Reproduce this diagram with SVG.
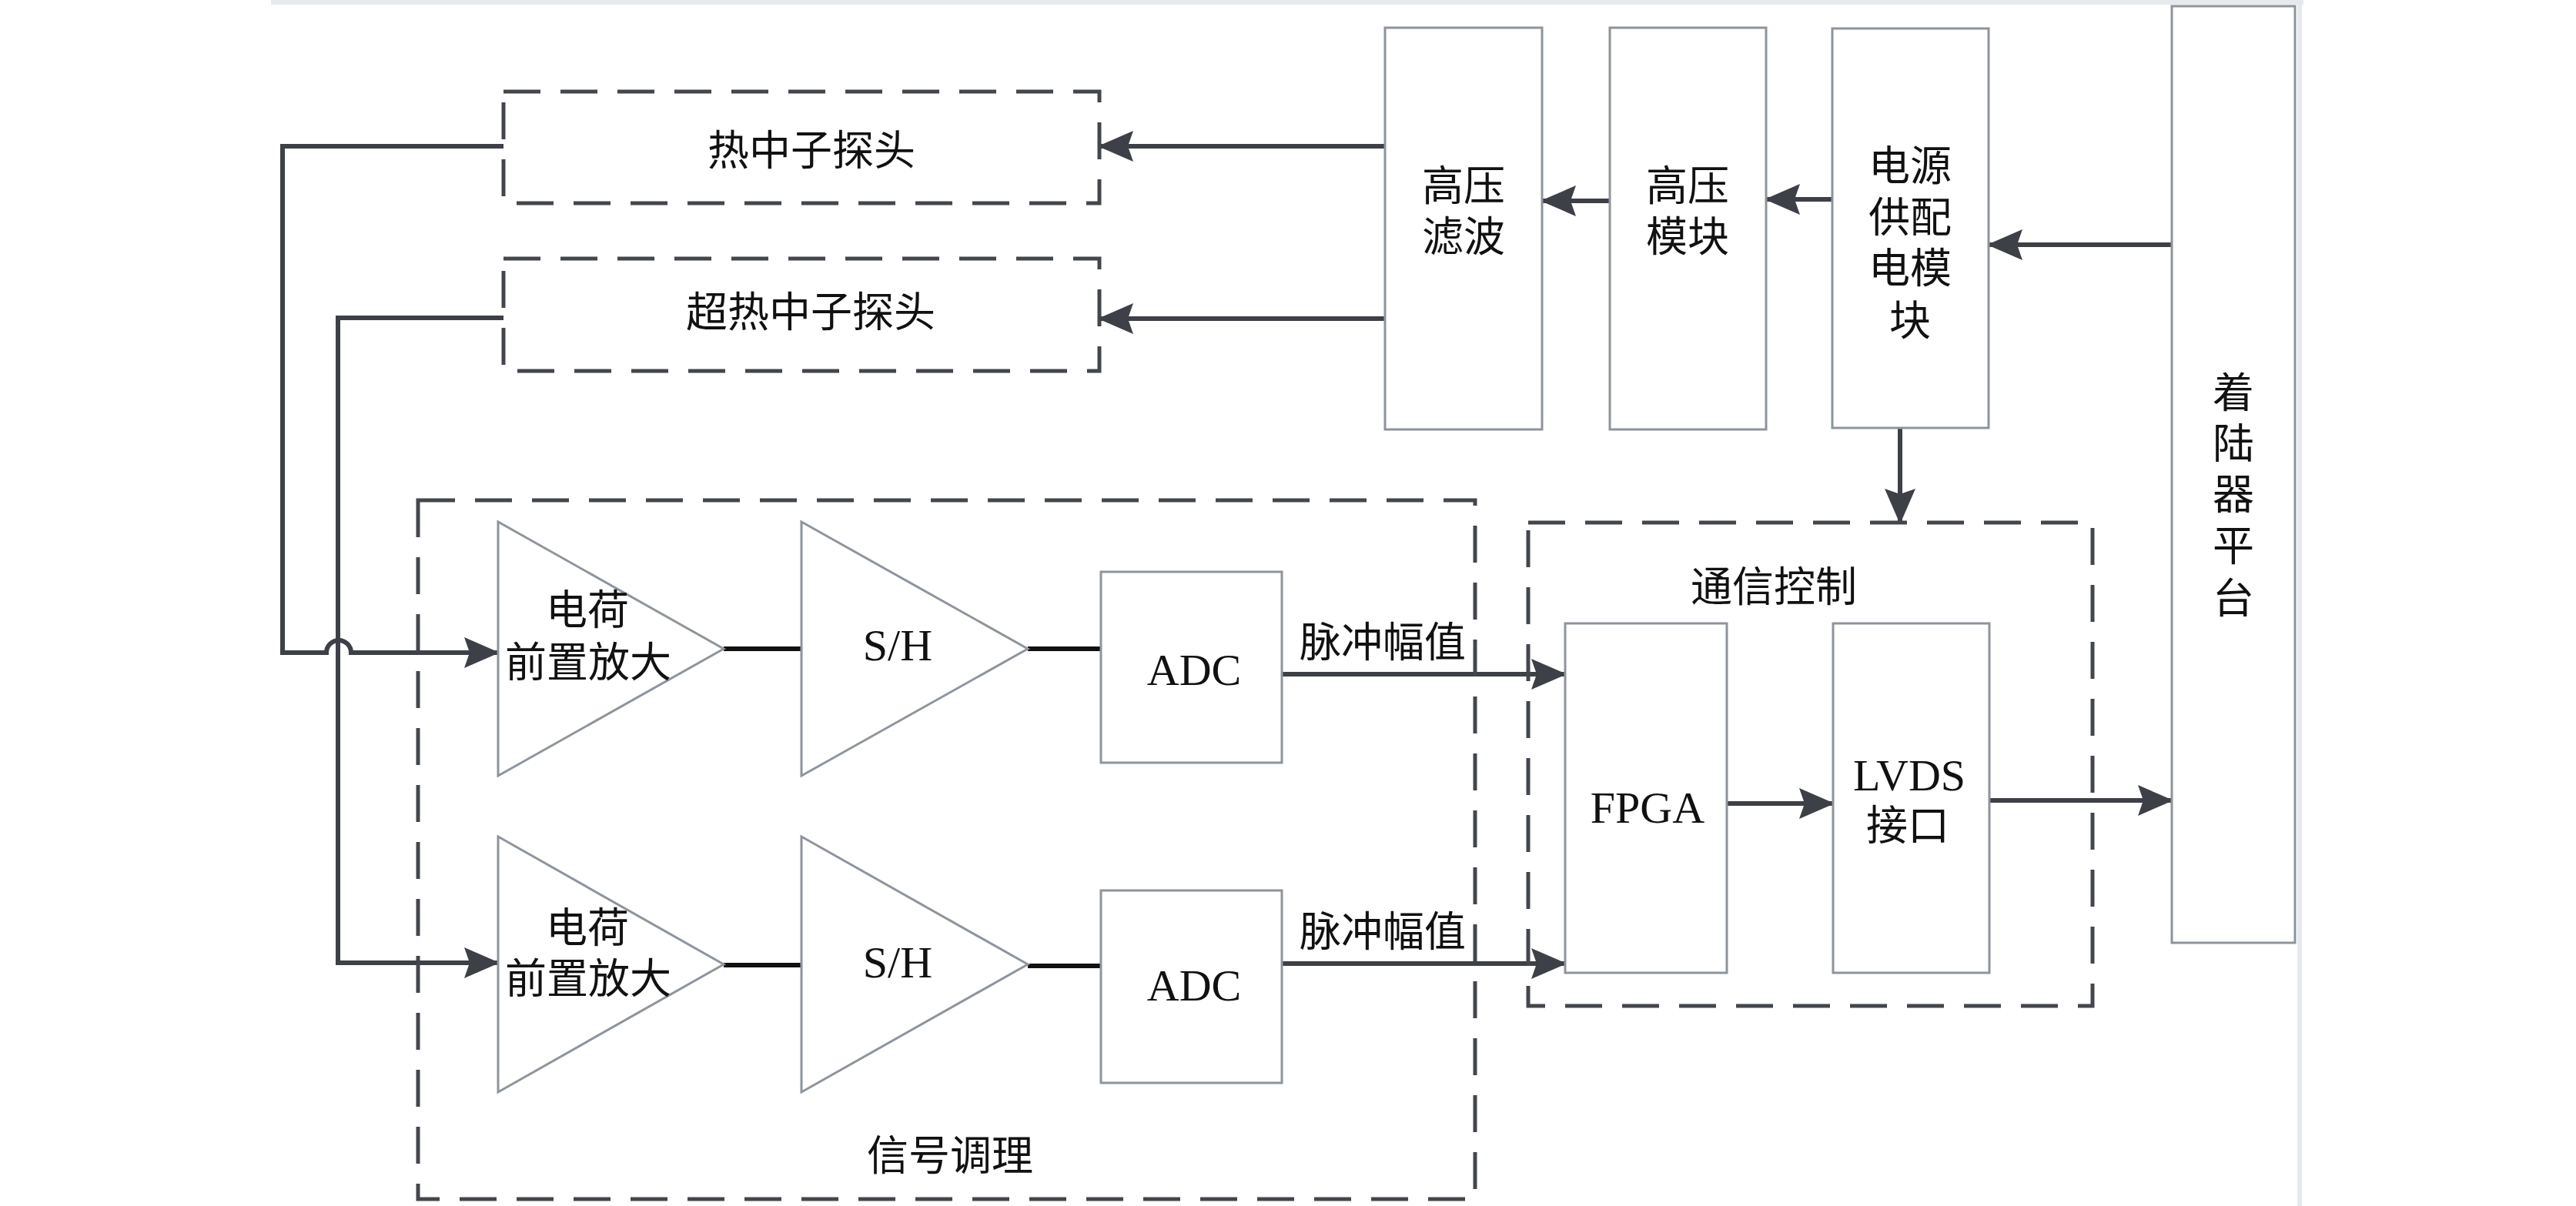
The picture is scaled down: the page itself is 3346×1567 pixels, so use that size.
<svg xmlns="http://www.w3.org/2000/svg" width="3346" height="1567" viewBox="0 0 3346 1567">
<defs>
<style>
.box{fill:#fff;stroke:#8d949c;stroke-width:3}
.tri{fill:#fff;stroke:#8d949c;stroke-width:3;stroke-linejoin:miter}
.dash{fill:none;stroke:#43464c;stroke-width:5;stroke-dasharray:48 26}
.ln{fill:none;stroke:#3d4046;stroke-width:6}
.blk{fill:none;stroke:#111;stroke-width:6}
.arr{marker-end:url(#ah)}
text{font-family:"Liberation Serif","Noto Sans CJK SC",serif;fill:#111;text-anchor:middle;dominant-baseline:central}
.cn{font-size:54px}
.lat{font-size:58px}
</style>
<marker id="ah" viewBox="0 0 46 40" refX="44" refY="20" markerWidth="46" markerHeight="40" markerUnits="userSpaceOnUse" orient="auto">
<path d="M0,0 L46,20 L0,40 L7,20 z" fill="#3d4046"/>
</marker>
</defs>
<rect x="0" y="0" width="3346" height="1567" fill="#fff"/>
<g id="frame">
<rect x="352" y="0" width="2640" height="6" fill="#e6eaee"/>
<rect x="2984" y="0" width="6" height="1567" fill="#e6e8ef"/>
</g>

<g id="connectors">
<path class="ln arr" d="M654,190 H367 V848 H424 A16,16 0 0 1 456,848 H647"/>
<path class="ln arr" d="M654,413 H439 V1251 H647"/>
<path class="ln arr" d="M1799,190 H1428"/>
<path class="ln arr" d="M1799,414 H1428"/>
<path class="ln arr" d="M2091,261 H2003"/>
<path class="ln arr" d="M2380,259 H2294"/>
<path class="ln arr" d="M2821,318 H2583"/>
<path class="ln arr" d="M2468,556 V679"/>
<path class="blk" d="M940,843 H1041"/>
<path class="blk" d="M1335,843 H1430"/>
<path class="blk" d="M940,1254 H1041"/>
<path class="blk" d="M1335,1255 H1430"/>
<path class="ln arr" d="M1665,876 H2033"/>
<path class="ln arr" d="M1665,1252 H2033"/>
<path class="ln arr" d="M2243,1044 H2381"/>
<path class="ln arr" d="M2584,1040 H2821"/>
</g>

<g id="probe-thermal">
<rect class="dash" x="654" y="119" width="774" height="145"/>
<text class="cn" x="1054" y="197">热中子探头</text>
</g>
<g id="probe-epithermal">
<rect class="dash" x="654" y="336" width="774" height="146"/>
<text class="cn" x="1053" y="407">超热中子探头</text>
</g>

<g id="hv-filter">
<rect class="box" x="1799" y="36" width="204" height="522"/>
<text class="cn" x="1901" y="243">高压</text>
<text class="cn" x="1901" y="309">滤波</text>
</g>
<g id="hv-module">
<rect class="box" x="2091" y="36" width="203" height="522"/>
<text class="cn" x="2192" y="243">高压</text>
<text class="cn" x="2192" y="309">模块</text>
</g>
<g id="power">
<rect class="box" x="2380" y="37" width="203" height="519"/>
<text class="cn" x="2481" y="217">电源</text>
<text class="cn" x="2481" y="284">供配</text>
<text class="cn" x="2481" y="350">电模</text>
<text class="cn" x="2481" y="418">块</text>
</g>
<g id="lander">
<rect class="box" x="2821" y="8" width="160" height="1217"/>
<text class="cn" x="2901" y="512">着</text>
<text class="cn" x="2901" y="578">陆</text>
<text class="cn" x="2901" y="644">器</text>
<text class="cn" x="2901" y="711">平</text>
<text class="cn" x="2901" y="779">台</text>
</g>

<g id="signal-conditioning">
<rect class="dash" x="543" y="650" width="1373" height="908"/>
<text class="cn" x="1234" y="1503">信号调理</text>
</g>
<g id="preamp-1">
<polygon class="tri" points="647,678 940,843 647,1008"/>
<text class="cn" x="763" y="794">电荷</text>
<text class="cn" x="764" y="862">前置放大</text>
</g>
<g id="preamp-2">
<polygon class="tri" points="647,1087 940,1253 647,1419"/>
<text class="cn" x="763" y="1207">电荷</text>
<text class="cn" x="764" y="1273">前置放大</text>
</g>
<g id="sh-1">
<polygon class="tri" points="1041,678 1335,843 1041,1008"/>
<text class="lat" x="1166" y="838">S/H</text>
</g>
<g id="sh-2">
<polygon class="tri" points="1041,1087 1335,1253 1041,1419"/>
<text class="lat" x="1166" y="1250">S/H</text>
</g>
<g id="adc-1">
<rect class="box" x="1430" y="743" width="235" height="248"/>
<text class="lat" x="1551" y="870">ADC</text>
</g>
<g id="adc-2">
<rect class="box" x="1430" y="1157" width="235" height="250"/>
<text class="lat" x="1551" y="1280">ADC</text>
</g>
<g id="labels">
<text class="cn" x="1796" y="836">脉冲幅值</text>
<text class="cn" x="1796" y="1212">脉冲幅值</text>
</g>

<g id="comm-control">
<rect class="dash" x="1985" y="679" width="733" height="628"/>
<text class="cn" x="2304" y="764">通信控制</text>
</g>
<g id="fpga">
<rect class="box" x="2033" y="810" width="210" height="454"/>
<text class="lat" x="2140" y="1049">FPGA</text>
</g>
<g id="lvds">
<rect class="box" x="2381" y="810" width="203" height="454"/>
<text class="lat" x="2480" y="1007">LVDS</text>
<text class="cn" x="2478" y="1074">接口</text>
</g>
</svg>
